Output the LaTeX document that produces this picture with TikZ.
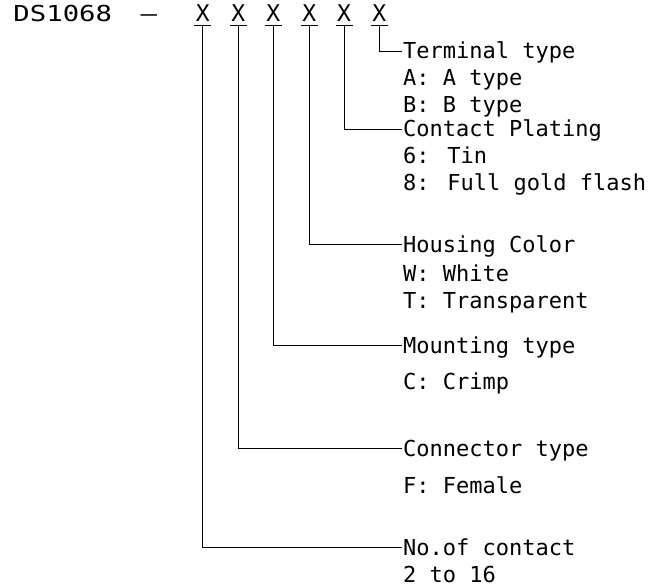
\documentclass[tikz,border=0pt]{standalone}
\usepackage{fontspec}
\setmainfont{DejaVu Sans Mono}
\begin{document}
\begin{tikzpicture}[x=1pt,y=-1pt,
  txt/.style={inner xsep=1pt, inner ysep=0pt, anchor=west, text height=16pt, text depth=0pt,
    font=\fontsize{22}{26}\selectfont},
  xl/.style={inner sep=0pt, anchor=south, text height=16pt, text depth=0pt,
    font=\fontsize{23}{27}\selectfont},
  lead/.style={line width=0.8pt, black}]
\useasboundingbox (0,0) rectangle (653,588);
% code
\node[txt, anchor=base west, text height=, text depth=, xscale=1.24, transform shape] (code) at (12,21.7) {DS1068\hspace{1.05em}–};
% X positions
\node[xl] (x1) at (202.7,21.7) {X};
\node[xl] (x2) at (238.3,21.7) {X};
\node[xl] (x3) at (273.3,21.7) {X};
\node[xl] (x4) at (309.3,21.7) {X};
\node[xl] (x5) at (344.0,21.7) {X};
\node[xl] (x6) at (379.3,21.7) {X};
% headings and options
\node[txt] (h6) at (402,51) {Terminal type};
\node[txt] (o6a) at (402,78) {A: A type};
\node[txt] (o6b) at (402,104.5) {B: B type};
\node[txt] (h5) at (402,129) {Contact Plating};
\node[txt] (o5a) at (402,156) {6: Tin};
\node[txt] (o5b) at (402,183) {8: Full gold flash};
\node[txt] (h4) at (402,244) {Housing Color};
\node[txt] (o4a) at (402,273) {W: White};
\node[txt] (o4b) at (402,300) {T: Transparent};
\node[txt] (h3) at (402,345) {Mounting type};
\node[txt] (o3a) at (402,381) {C: Crimp};
\node[txt] (h2) at (402,448) {Connector type};
\node[txt] (o2a) at (402,485) {F: Female};
\node[txt] (h1) at (402,547) {No.of contact};
\node[txt] (o1a) at (402,574.5) {2 to 16};
% underlines and leaders
\foreach \i in {1,...,6}{
  \draw[lead] ([xshift=-8.5pt,yshift=-3.3pt]x\i.south) -- ([xshift=8.5pt,yshift=-3.3pt]x\i.south);
  \draw[lead] ([yshift=-3.3pt]x\i.south) |- (h\i.west);
}
\end{tikzpicture}
\end{document}
